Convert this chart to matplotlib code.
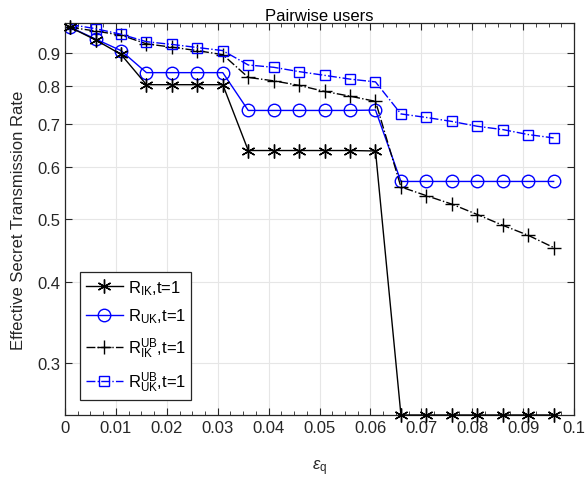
import matplotlib
matplotlib.use('Agg')
import matplotlib.pyplot as plt
import numpy as np
from matplotlib.ticker import FixedLocator, NullLocator, MultipleLocator, FuncFormatter

plt.rcParams['font.family'] = ['Liberation Sans', 'DejaVu Sans']
plt.rcParams['mathtext.fontset'] = 'custom'
plt.rcParams['mathtext.rm'] = 'Liberation Sans'
plt.rcParams['mathtext.it'] = 'Liberation Sans:italic'

eps_q = [0.001, 0.006, 0.011, 0.016, 0.021, 0.026, 0.031, 0.036, 0.041, 0.046,
         0.051, 0.056, 0.061, 0.066, 0.071, 0.076, 0.081, 0.086, 0.091, 0.096]

r_ik = [0.985, 0.942, 0.895, 0.804, 0.804, 0.804, 0.804, 0.637, 0.637, 0.637,
        0.637, 0.637, 0.636, 0.25, 0.25, 0.25, 0.25, 0.25, 0.25, 0.25]
r_uk = [0.985, 0.945, 0.907, 0.839, 0.839, 0.839, 0.839, 0.734, 0.734, 0.734,
        0.734, 0.734, 0.735, 0.571, 0.571, 0.571, 0.571, 0.571, 0.571, 0.571]
r_ik_ub = [0.985, 0.972, 0.958, 0.929, 0.918, 0.907, 0.894, 0.825, 0.815, 0.802,
           0.785, 0.772, 0.758, 0.560, 0.543, 0.527, 0.508, 0.489, 0.472, 0.452]
r_uk_ub = [0.995, 0.980, 0.961, 0.936, 0.927, 0.917, 0.907, 0.862, 0.855, 0.842,
           0.831, 0.820, 0.812, 0.725, 0.716, 0.706, 0.694, 0.686, 0.674, 0.666]

labels = [r'$\mathregular{R_{IK}}$,t=1', r'$\mathregular{R_{UK}}$,t=1',
          r'$\mathregular{R^{UB}_{IK}}$,t=1', r'$\mathregular{R^{UB}_{UK}}$,t=1']
yticks = [0.3, 0.4, 0.5, 0.6, 0.7, 0.8, 0.9]
xticks = [0, 0.01, 0.02, 0.03, 0.04, 0.05, 0.06, 0.07, 0.08, 0.09, 0.1]

fig = plt.figure(figsize=(5.87, 4.85), dpi=100)
ax = fig.add_axes([65/587, 69/485, 509/587, 392/485])

asterisk = (6, 2, 0)
ax.plot(eps_q, r_ik, 'k-', lw=1, marker=asterisk, ms=10, mew=1, label=labels[0], clip_on=False, zorder=3)
ax.plot(eps_q, r_uk, color='b', ls='-', lw=1, marker='o', ms=9, mfc='none', mew=1, label=labels[1])
ax.plot(eps_q, r_ik_ub, 'k-.', lw=1, marker='+', ms=10, mew=1, label=labels[2])
ax.plot(eps_q, r_uk_ub, color='b', ls='-.', lw=1, marker='s', ms=7.5, mfc='none', mew=1, label=labels[3])

ax.set_yscale('log')
ax.set_xlim(0, 0.1)
ax.set_ylim(0.25, 1.0)
ax.yaxis.set_major_locator(FixedLocator(yticks))
ax.yaxis.set_minor_locator(NullLocator())
ax.yaxis.set_major_formatter(FuncFormatter(lambda v, p: '%g' % v))
ax.set_xticks(xticks)
ax.xaxis.set_major_formatter(FuncFormatter(lambda v, p: '%g' % round(v, 3)))
ax.xaxis.set_minor_locator(MultipleLocator(0.0025))

ax.grid(True, which='major', color='#e6e6e6', lw=0.8)
ax.set_axisbelow(True)
ax.tick_params(which='both', direction='in', top=True, right=True, labelsize=12, colors='#262626')
ax.tick_params(which='major', length=5)
ax.tick_params(which='minor', length=3)
for s in ax.spines.values():
    s.set_color('#262626')
    s.set_linewidth(0.9)

ax.set_title('Pairwise users', fontsize=12, pad=1)
ax.set_ylabel('Effective Secret Transmission Rate', fontsize=12, color='#262626', labelpad=8)
ax.set_xlabel(r'$\varepsilon_\mathregular{q}$', fontsize=12, color='#262626', labelpad=16)

leg = ax.legend(loc='lower left', bbox_to_anchor=(15/509, 15/392), fontsize=12,
                fancybox=False, edgecolor='#262626', framealpha=1,
                handlelength=2.2, borderpad=0.35, labelspacing=0.6, handletextpad=0.3,
                borderaxespad=0)
leg.get_frame().set_linewidth(0.9)

fig.savefig('out.png', dpi=100)
